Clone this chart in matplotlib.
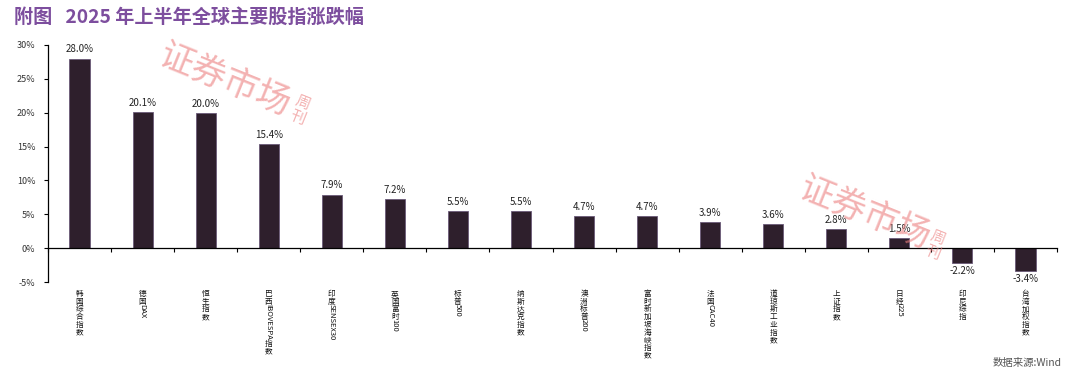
import re
import matplotlib
matplotlib.use('Agg')
import matplotlib.pyplot as plt
import numpy as np

categories = ['韩国综合指数', '德国DAX', '恒生指数', '巴西IBOVESPA指数', '印度SENSEX30',
              '英国富时100', '标普500', '纳斯达克指数', '澳洲标普200', '富时新加坡海峡指数',
              '法国CAC40', '道琼斯工业指数', '上证指数', '日经225', '印尼综指', '台湾加权指数']
values = [28.0, 20.1, 20.0, 15.4, 7.9, 7.2, 5.5, 5.5, 4.7, 4.7, 3.9, 3.6, 2.8, 1.5, -2.2, -3.4]
y_ticks = [-5, 0, 5, 10, 15, 20, 25, 30]

plt.rcParams['font.family'] = ['Noto Sans CJK SC', 'DejaVu Sans']

W, H = 1080, 378
fig = plt.figure(figsize=(W / 100, H / 100), dpi=100)
fig.patch.set_facecolor('white')
ax = fig.add_axes([48 / W, 1 - 282 / H, (1057 - 48) / W, (282 - 45) / H])

x = np.arange(len(categories))
ax.bar(x, values, width=0.32, color='#2e1f2c', edgecolor='#6a5a78', linewidth=0.6, zorder=3)
ax.set_xlim(-0.5, len(categories) - 0.5)
ax.set_ylim(-5, 30)
ax.set_yticks(y_ticks)
ax.set_yticklabels([f'{v}%' for v in y_ticks], fontsize=6.5, color='#333333', fontweight='medium')
for s in ['top', 'right']:
    ax.spines[s].set_visible(False)
ax.spines['bottom'].set_position(('data', 0))
ax.spines['bottom'].set_zorder(4)
ax.spines['left'].set_linewidth(0.9)
ax.spines['bottom'].set_linewidth(0.9)
ax.set_xticks(np.arange(-0.5, len(categories), 1.0))
ax.set_xticklabels([])
ax.tick_params(axis='x', direction='out', length=3, width=0.8)
ax.tick_params(axis='y', direction='out', length=3, width=0.8, pad=6)

for i, v in enumerate(values):
    ax.annotate(f'{v:.1f}%', (i, v), xytext=(0, 3 if v >= 0 else -2),
                textcoords='offset points', ha='center',
                va='bottom' if v >= 0 else 'top', fontsize=7, fontweight='medium',
                color='#222222', zorder=5)

# vertical category labels: CJK upright, latin rotated
fig.canvas.draw()
renderer = fig.canvas.get_renderer()
for i, lab in enumerate(categories):
    off = 8
    for r in re.findall(r'[\u4e00-\u9fff]+|[^\u4e00-\u9fff]+', lab):
        if re.match(r'[\u4e00-\u9fff]', r):
            t = ax.annotate('\n'.join(r), xy=(i, 0), xycoords=('data', 'axes fraction'),
                            xytext=(0, -off), textcoords='offset pixels', ha='center', va='top',
                            fontsize=5.5, linespacing=0.95, color='#111111',
                            fontweight='medium', annotation_clip=False)
            off += t.get_window_extent(renderer).height - 2
        else:
            t = ax.annotate(r, xy=(i, 0), xycoords=('data', 'axes fraction'),
                            xytext=(0, -off), textcoords='offset pixels', ha='center', va='top',
                            rotation=-90, fontsize=5.5, color='#111111', annotation_clip=False)
            off += t.get_window_extent(renderer).height

# title and source
fig.text(14 / W, 1 - 17 / H, '附图   2025 年上半年全球主要股指涨跌幅', fontsize=13.8,
         fontweight='bold', color='#7d4e9e', va='center', ha='left')
fig.text(1062 / W, 1 - 363 / H, '数据来源:Wind', fontsize=7.5, color='#555555',
         va='center', ha='right')

# watermarks
wm = '#ec7f7f'
for (cx, cy, fx, fy) in [(225, 80, 300, 110), (865, 213, 935, 245)]:
    fig.text(cx / W, 1 - cy / H, '证券市场', fontsize=25, color=wm, alpha=0.6,
             rotation=-22, ha='center', va='center', zorder=10)
    fig.text(fx / W, 1 - fy / H, '周\n刊', fontsize=11, color=wm, alpha=0.6,
             rotation=-22, ha='center', va='center', linespacing=0.9, zorder=10)

fig.savefig('out.png', dpi=100)
